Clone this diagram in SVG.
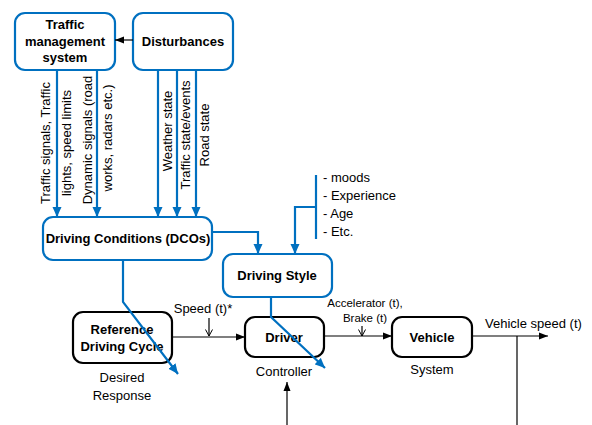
<svg xmlns="http://www.w3.org/2000/svg" width="592" height="425" viewBox="0 0 592 425">
<defs>
<style>
.bbox{fill:#fff;stroke:#0070C0;stroke-width:2.2}
.kbox{fill:#fff;stroke:#000;stroke-width:2.2}
.t{font-family:"Liberation Sans",Arial,sans-serif;font-size:13px;fill:#000}
.b{font-weight:bold;text-anchor:middle}
.m{text-anchor:middle}
.s{font-size:11.5px}
.bl{fill:none;stroke:#0070C0;stroke-width:2.2}
.kl{fill:none;stroke:#000;stroke-width:1.2}
</style>
<marker id="ab" markerUnits="userSpaceOnUse" markerWidth="10" markerHeight="10" viewBox="0 0 10 10" refX="10" refY="5" orient="auto">
<path d="M0,0.5 L10,5 L0,9.5 Z" fill="#0070C0"/>
</marker>
<marker id="ak" markerUnits="userSpaceOnUse" markerWidth="9" markerHeight="8" viewBox="0 0 9 8" refX="9" refY="4" orient="auto">
<path d="M0,0.5 L9,4 L0,7.5 Z" fill="#000"/>
</marker>
<marker id="ao" markerUnits="userSpaceOnUse" markerWidth="8" markerHeight="8" viewBox="0 0 8 8" refX="7.5" refY="4" orient="auto">
<path d="M1,0.5 L7.5,4 L1,7.5" fill="none" stroke="#000" stroke-width="1"/>
</marker>
</defs>
<rect width="592" height="425" fill="#fff"/>

<g id="traffic-management">
<rect class="bbox" x="15" y="13" width="100" height="57" rx="10"/>
<text class="t b" x="65" y="29">Traffic</text>
<text class="t b" x="65" y="46">management</text>
<text class="t b" x="65" y="62">system</text>
</g>

<g id="disturbances">
<rect class="bbox" x="133" y="13" width="100" height="57" rx="10"/>
<text class="t b" x="183" y="46">Disturbances</text>
</g>

<g id="driving-conditions">
<rect class="bbox" x="43" y="217" width="169" height="43" rx="10"/>
<text class="t b" x="128" y="243" font-size="12.5">Driving Conditions (DCOs)</text>
</g>

<g id="driving-style">
<rect class="bbox" x="223" y="254" width="109" height="43" rx="10"/>
<text class="t b" x="277" y="280">Driving Style</text>
</g>

<g id="reference-driving-cycle">
<rect class="kbox" x="73" y="312" width="99" height="51" rx="10"/>
<text class="t b" x="122" y="334">Reference</text>
<text class="t b" x="122" y="351">Driving Cycle</text>
<text class="t m" x="122" y="382">Desired</text>
<text class="t m" x="122" y="400">Response</text>
</g>

<g id="driver">
<rect class="kbox" x="245" y="317" width="79" height="40" rx="10"/>
<text class="t b" x="284" y="342">Driver</text>
<text class="t m" x="284" y="376">Controller</text>
</g>

<g id="vehicle">
<rect class="kbox" x="392" y="317" width="80" height="40" rx="10"/>
<text class="t b" x="432" y="342">Vehicle</text>
<text class="t m" x="432" y="374">System</text>
</g>

<g id="connectors">
<path class="kl" d="M133,40 H115" marker-end="url(#ak)"/>
<path class="bl" d="M57,70 V217" marker-end="url(#ab)"/>
<path class="bl" d="M97,70 V217" marker-end="url(#ab)"/>
<path class="bl" d="M158,70 V217" marker-end="url(#ab)"/>
<path class="bl" d="M177,70 V217" marker-end="url(#ab)"/>
<path class="bl" d="M196,70 V217" marker-end="url(#ab)"/>
<path class="bl" d="M212,232 H258 V254" marker-end="url(#ab)"/>
<path class="bl" d="M316,175 V239"/>
<path class="bl" d="M316,207 H295 V254" marker-end="url(#ab)"/>
<path class="bl" d="M123,260 V302 L178,374" marker-end="url(#ab)"/>
<path class="bl" d="M271,297 V317 L325,368" marker-end="url(#ab)"/>
<path class="kl" d="M172,337 H245" marker-end="url(#ak)"/>
<path class="kl" d="M324,336 H392" stroke="#333" marker-end="url(#ak)"/>
<path class="kl" d="M472,336 H548" marker-end="url(#ak)"/>
<path class="kl" d="M517,336 V425"/>
<path class="kl" d="M287,425 V382" marker-end="url(#ak)"/>
<path class="kl" d="M209,318 V336" stroke-width="1" marker-end="url(#ao)"/>
<path class="kl" d="M362,326 V336" stroke-width="1" marker-end="url(#ao)"/>

<g class="t">
<text transform="translate(50,143) rotate(-90)" class="m">Traffic signals, Traffic</text>
<text transform="translate(70.5,143) rotate(-90)" class="m">lights, speed limits</text>
<text transform="translate(91.5,140) rotate(-90)" class="m">Dynamic signals (road</text>
<text transform="translate(111.5,138) rotate(-90)" class="m">works, radars etc.)</text>
<text transform="translate(171.5,131) rotate(-90)" class="m">Weather state</text>
<text transform="translate(189.5,135) rotate(-90)" class="m">Traffic state/events</text>
<text transform="translate(208.5,135) rotate(-90)" class="m">Road state</text>
<text x="203" y="313" class="m">Speed (t)*</text>
<text x="365" y="307" class="m s">Accelerator (t),</text>
<text x="365" y="322" class="m s">Brake (t)</text>
<text x="485" y="328">Vehicle speed (t)</text>
<text x="323" y="182">- moods</text>
<text x="323" y="200">- Experience</text>
<text x="323" y="218">- Age</text>
<text x="323" y="236">- Etc.</text>
</g>
</g>
</svg>
